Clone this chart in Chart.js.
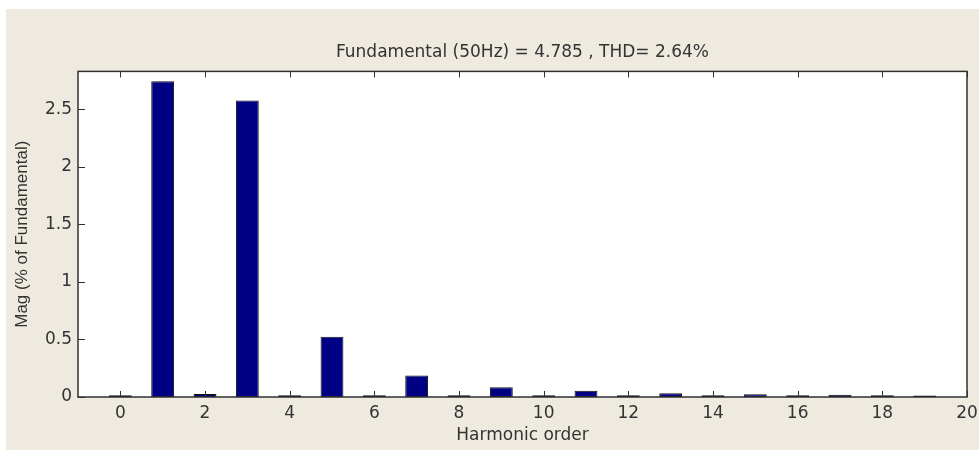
<!DOCTYPE html>
<html>
<head>
<meta charset="utf-8">
<script src="https://cdn.jsdelivr.net/npm/chart.js@4"></script>
<style>
  html, body { margin: 0; padding: 0; background: #ffffff; }
  #panel { position: absolute; left: 6px; top: 9px; width: 973px; height: 441px; background: #eeeae0; }
  #wrap { position: absolute; left: 0; top: 0; width: 979px; height: 450px; }
</style>
</head>
<body>
<div id="panel"></div>
<div id="wrap"><canvas id="chartFFT" width="979" height="450"></canvas></div>
<script>
// FFT spectrum
const harmonicOrder = [0, 1, 2, 3, 4, 5, 6, 7, 8, 9, 10, 11, 12, 13, 14, 15, 16, 17, 18, 19];
const magnitude = [0.016, 2.745, 0.025, 2.578, 0.016, 0.523, 0.016, 0.186, 0.016, 0.084,
  0.016, 0.055, 0.016, 0.032, 0.016, 0.023, 0.016, 0.02, 0.016, 0.014];
const xTicks = [0, 2, 4, 6, 8, 10, 12, 14, 16, 18, 20];
const yTicks = [0, 0.5, 1, 1.5, 2, 2.5];

const titleText = 'Fundamental (50Hz) = 4.785 , THD= 2.64%';
const textColor = '#333333';
const frameColor = '#303030';

// white axes box, frame and inward ticks like matlab
const plotFrame = {
  id: 'plotFrame',
  beforeDraw(chart) {
    const { ctx, chartArea: a } = chart;
    ctx.save();
    ctx.fillStyle = '#ffffff';
    ctx.fillRect(a.left, a.top, a.right - a.left, a.bottom - a.top);
    ctx.restore();
  },
  afterDatasetsDraw(chart) {
    const { ctx, chartArea: a, scales } = chart;
    ctx.save();
    ctx.strokeStyle = frameColor;
    ctx.lineWidth = 1;
    ctx.beginPath();
    xTicks.forEach((v) => {
      const px = Math.round(scales.x.getPixelForValue(v)) + 0.5;
      ctx.moveTo(px, a.bottom);
      ctx.lineTo(px, a.bottom - 6);
      ctx.moveTo(px, a.top);
      ctx.lineTo(px, a.top + 6);
    });
    yTicks.forEach((v) => {
      const py = Math.round(scales.y.getPixelForValue(v)) + 0.5;
      ctx.moveTo(a.left, py);
      ctx.lineTo(a.left + 7, py);
    });
    ctx.stroke();
    ctx.lineWidth = 1.5;
    ctx.strokeRect(a.left, a.top, a.right - a.left, a.bottom - a.top);
    ctx.restore();
  },
};

new Chart(document.getElementById('chartFFT'), {
  type: 'bar',
  data: {
    datasets: [
      {
        data: harmonicOrder.map((h, i) => ({ x: h, y: magnitude[i] })),
        backgroundColor: '#000085',
        borderColor: '#111111',
        borderWidth: 1,
        borderSkipped: false,
        categoryPercentage: 1,
        barPercentage: 0.54,
      },
    ],
  },
  options: {
    responsive: false,
    animation: false,
    layout: { padding: { left: 0, right: 12, top: 0, bottom: 0 } },
    plugins: {
      legend: { display: false },
      tooltip: { enabled: false },
      title: {
        display: true,
        text: titleText,
        fullSize: false,
        color: textColor,
        font: { family: 'DejaVu Sans', size: 17, weight: 'normal' },
        padding: { top: 42, bottom: 9 },
      },
    },
    scales: {
      x: {
        type: 'linear',
        min: -1,
        max: 20,
        offset: false,
        grid: { display: false, drawTicks: false },
        border: { display: false },
        afterBuildTicks: (scale) => {
          scale.ticks = xTicks.map((v) => ({ value: v }));
        },
        afterFit: (scale) => {
          scale.height = 53;
          scale.paddingLeft = 0;
          scale.paddingRight = 0;
        },
        ticks: {
          color: textColor,
          padding: 6,
          maxRotation: 0,
          autoSkip: false,
          font: { family: 'DejaVu Sans', size: 17 },
          callback: (v) => String(v),
        },
        title: {
          display: true,
          text: 'Harmonic order',
          color: textColor,
          font: { family: 'DejaVu Sans', size: 17 },
          padding: { top: 0, bottom: 4 },
        },
      },
      y: {
        min: 0,
        max: 2.83,
        grid: { display: false, drawTicks: false },
        border: { display: false },
        afterBuildTicks: (scale) => {
          scale.ticks = yTicks.map((v) => ({ value: v }));
        },
        afterFit: (scale) => {
          scale.width = 78;
        },
        ticks: {
          color: textColor,
          padding: 6,
          font: { family: 'DejaVu Sans', size: 17 },
          callback: (v) => String(v),
        },
        title: {
          display: true,
          text: 'Mag (% of Fundamental)',
          color: textColor,
          font: { family: 'Liberation Sans', size: 17 },
          padding: { top: 12, bottom: 0 },
        },
      },
    },
  },
  plugins: [plotFrame],
});
</script>
</body>
</html>
